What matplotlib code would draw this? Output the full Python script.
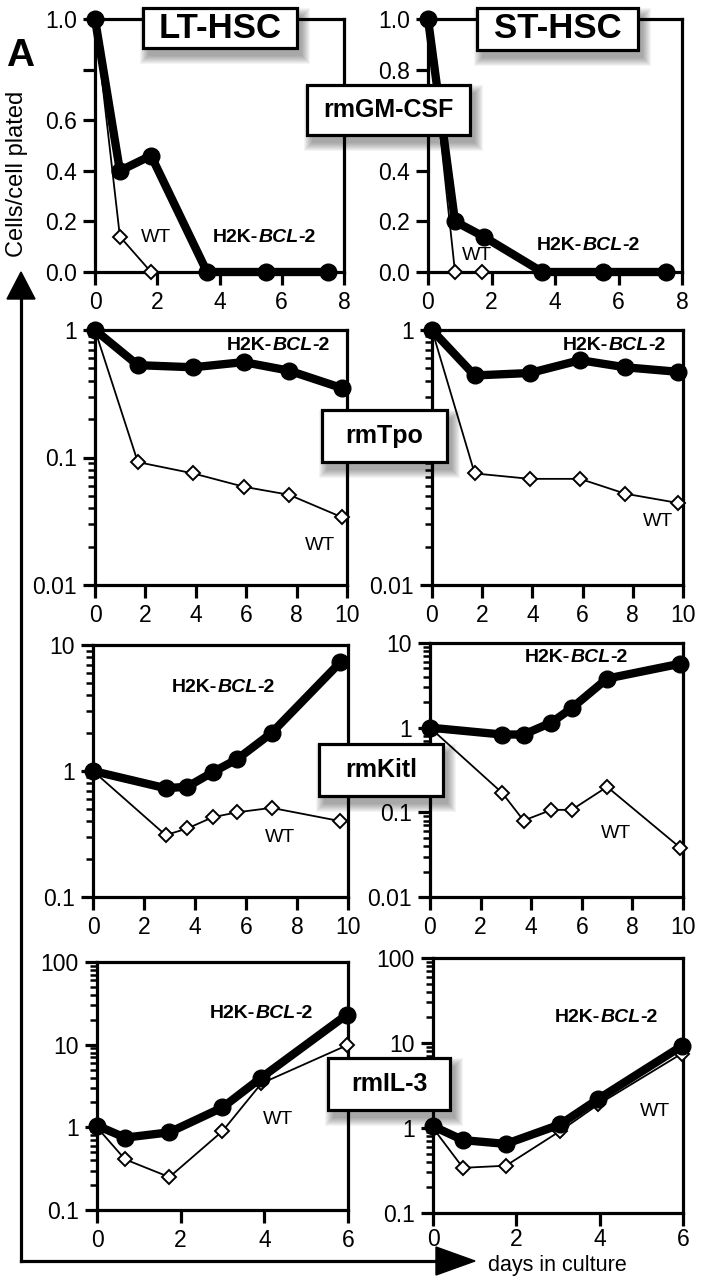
import matplotlib
matplotlib.use("Agg")
import matplotlib.pyplot as plt
from matplotlib import ticker
from matplotlib.patches import Rectangle, Polygon
from matplotlib.lines import Line2D
from matplotlib.transforms import Affine2D

plt.rcParams['font.family'] = ['Liberation Sans', 'DejaVu Sans']

# ---------------- data ----------------
# rmGM-CSF (linear)
lt_gm_x_h2k = [0, 0.8, 1.8, 3.6, 5.5, 7.5]
lt_gm_y_h2k = [1.0, 0.40, 0.46, 0.0, 0.0, 0.0]
lt_gm_x_wt = [0, 0.8, 1.8]
lt_gm_y_wt = [1.0, 0.14, 0.0]
st_gm_x_h2k = [0, 0.85, 1.75, 3.6, 5.5, 7.5]
st_gm_y_h2k = [1.0, 0.20, 0.14, 0.0, 0.0, 0.0]
st_gm_x_wt = [0, 0.85, 1.7]
st_gm_y_wt = [1.0, 0.0, 0.0]

# rmTpo (log)
tpo_x = [0, 1.7, 3.9, 5.9, 7.7, 9.8]
lt_tpo_h2k = [1.0, 0.53, 0.51, 0.56, 0.48, 0.35]
lt_tpo_wt = [1.0, 0.092, 0.075, 0.059, 0.051, 0.034]
st_tpo_h2k = [1.0, 0.44, 0.46, 0.58, 0.51, 0.47]
st_tpo_wt = [1.0, 0.075, 0.068, 0.068, 0.052, 0.044]

# rmKitl (log)
lt_kit_x = [0, 2.85, 3.7, 4.7, 5.65, 7.0, 9.7]
lt_kit_h2k = [1.0, 0.73, 0.75, 0.98, 1.24, 2.0, 7.3]
lt_kit_wt = [1.0, 0.31, 0.35, 0.43, 0.47, 0.51, 0.40]
st_kit_x = [0, 2.85, 3.7, 4.8, 5.6, 7.0, 9.9]
st_kit_h2k = [1.0, 0.83, 0.83, 1.15, 1.7, 3.8, 5.7]
st_kit_wt = [1.0, 0.17, 0.08, 0.107, 0.107, 0.20, 0.038]

# rmIL-3 (log)
lt_il3_x = [0, 0.67, 1.73, 3.0, 3.93, 5.97]
lt_il3_h2k = [1.05, 0.75, 0.87, 1.74, 4.0, 23]
lt_il3_wt = [1.0, 0.41, 0.25, 0.9, 3.4, 9.8]
st_il3_x = [0, 0.72, 1.75, 3.05, 3.97, 5.97]
st_il3_h2k = [1.05, 0.72, 0.65, 1.1, 2.2, 9.2]
st_il3_wt = [1.0, 0.34, 0.36, 0.92, 1.9, 7.5]

column_titles = ["LT-HSC", "ST-HSC"]
factor_labels = ["rmGM-CSF", "rmTpo", "rmKitl", "rmIL-3"]
lt_gm_ticklabels = ["0.0", "0.2", "0.4", "0.6", "", "1.0"]
st_gm_ticklabels = ["0.0", "0.2", "0.4", "", "0.8", "1.0"]

W, H = 704, 1280
fig = plt.figure(figsize=(W / 100, H / 100), dpi=100)
fig.patch.set_facecolor('white')
T = Affine2D().scale(1 / W, -1 / H).translate(0, 1) + fig.transFigure

TICK_FS = 16.5
LBL_FS = 14


def add_ax(l, t, r, b):
    return fig.add_axes([l / W, 1 - b / H, (r - l) / W, (b - t) / H])


def log_fmt(hidden=()):
    return ticker.FuncFormatter(lambda v, p: "" if any(abs(v - h) < 1e-9 for h in hidden) else f"{v:g}")


def style(ax, xmax, xstep, log=False, ylim=None, ylabels=None, hidden=()):
    for s in ax.spines.values():
        s.set_linewidth(2.3)
    ax.set_xlim(0, xmax)
    ax.set_xticks(range(0, xmax + 1, xstep))
    if log:
        ax.set_yscale('log')
        ax.set_ylim(*ylim)
        ax.yaxis.set_major_locator(ticker.LogLocator(base=10, numticks=10))
        ax.yaxis.set_minor_locator(ticker.LogLocator(base=10, subs=range(2, 10), numticks=20))
        ax.yaxis.set_major_formatter(log_fmt(hidden))
        ax.yaxis.set_minor_formatter(ticker.NullFormatter())
    else:
        ax.set_ylim(0, 1.0)
        ax.set_yticks([0, 0.2, 0.4, 0.6, 0.8, 1.0])
        ax.set_yticklabels(ylabels)
    ax.tick_params(which='major', direction='out', length=9, width=2.3,
                   labelsize=TICK_FS, pad=4)
    ax.tick_params(axis='x', which='major', pad=5)
    ax.tick_params(which='minor', direction='out', length=5, width=1.8)


def plot_series(ax, x_wt, wt, x_h2k, h2k):
    ax.plot(x_wt, wt, color='black', lw=1.3, marker='D', ms=6.8, mfc='white',
            mec='black', mew=1.4, clip_on=False, zorder=3)
    ax.plot(x_h2k, h2k, color='black', lw=6, marker='o', ms=12, mfc='black',
            mec='black', clip_on=False, zorder=4, solid_joinstyle='round')


def h2k_label(px, py):
    t1 = fig.text(px / W, 1 - py / H, "H2K-", fontsize=LBL_FS, fontweight='bold',
                  ha='left', va='center', zorder=7)
    a2 = plt.annotate("BCL", xy=(1, 0), xycoords=t1, fontsize=LBL_FS, fontweight='bold',
                      style='italic', va='bottom', ha='left', annotation_clip=False)
    plt.annotate("-2", xy=(1, 0), xycoords=a2, fontsize=LBL_FS, fontweight='bold',
                 va='bottom', ha='left', annotation_clip=False)


def wt_label(px, py):
    fig.text(px / W, 1 - py / H, "WT", fontsize=LBL_FS, ha='center', va='center', zorder=7)


def boxed(text, x0, y0, x1, y1, fs):
    # soft shadow
    for i in range(9):
        fig.add_artist(Rectangle((x0 + 5 - i, y0 + 8 - i), (x1 - x0) + 2 * i, (y1 - y0) + 2 * i,
                                 transform=T, facecolor='black', edgecolor='none',
                                 alpha=0.045, zorder=8))
    fig.add_artist(Rectangle((x0, y0), x1 - x0, y1 - y0, transform=T, facecolor='white',
                             edgecolor='black', lw=2.3, zorder=9))
    fig.text((x0 + x1) / 2 / W, 1 - (y0 + y1) / 2 / H, text, fontsize=fs, fontweight='bold',
             ha='center', va='center', zorder=10)


# ---- row 1 : rmGM-CSF ----
ax1 = add_ax(95, 19, 344, 272)
style(ax1, 8, 2, ylabels=lt_gm_ticklabels)
plot_series(ax1, lt_gm_x_wt, lt_gm_y_wt, lt_gm_x_h2k, lt_gm_y_h2k)
ax2 = add_ax(428, 19, 682, 272)
style(ax2, 8, 2, ylabels=st_gm_ticklabels)
plot_series(ax2, st_gm_x_wt, st_gm_y_wt, st_gm_x_h2k, st_gm_y_h2k)

# ---- row 2 : rmTpo ----
ax3 = add_ax(95, 330, 347, 585)
style(ax3, 10, 2, log=True, ylim=(0.01, 1))
plot_series(ax3, tpo_x, lt_tpo_wt, tpo_x, lt_tpo_h2k)
ax4 = add_ax(432, 330, 683, 585)
style(ax4, 10, 2, log=True, ylim=(0.01, 1), hidden=(0.1,))
plot_series(ax4, tpo_x, st_tpo_wt, tpo_x, st_tpo_h2k)

# ---- row 3 : rmKitl ----
ax5 = add_ax(93, 645, 348, 897)
style(ax5, 10, 2, log=True, ylim=(0.1, 10))
plot_series(ax5, lt_kit_x, lt_kit_wt, lt_kit_x, lt_kit_h2k)
ax6 = add_ax(430, 643, 683, 897)
style(ax6, 10, 2, log=True, ylim=(0.01, 10))
plot_series(ax6, st_kit_x, st_kit_wt, st_kit_x, st_kit_h2k)

# ---- row 4 : rmIL-3 ----
ax7 = add_ax(97, 962, 348, 1210)
style(ax7, 6, 2, log=True, ylim=(0.1, 100))
plot_series(ax7, lt_il3_x, lt_il3_wt, lt_il3_x, lt_il3_h2k)
ax8 = add_ax(433, 958, 683, 1213)
style(ax8, 6, 2, log=True, ylim=(0.1, 100))
ax8.tick_params(axis='x', which='major', pad=2)
plot_series(ax8, st_il3_x, st_il3_wt, st_il3_x, st_il3_h2k)

# ---- series labels ----
for (hx, hy) in [(213, 238), (537, 245), (227, 345), (563, 345),
                 (172, 687), (525, 658), (210, 1013), (555, 1017)]:
    h2k_label(hx, hy)
for (wx, wy) in [(156, 238), (477, 255), (320, 545), (658, 522),
                 (280, 838), (616, 833), (278, 1120), (655, 1112)]:
    wt_label(wx, wy)

# ---- title boxes & factor boxes ----
boxed(column_titles[0], 143, 8, 297, 48, 25)
boxed(column_titles[1], 477, 8, 638, 50, 25)
boxed(factor_labels[0], 307, 85, 470, 135, 18)
boxed(factor_labels[1], 322, 410, 447, 462, 18)
boxed(factor_labels[2], 319, 744, 443, 796, 18)
boxed(factor_labels[3], 328, 1058, 450, 1110, 18)

# ---- panel letter and axis annotations ----
fig.text(20 / W, 1 - 56 / H, "A", fontsize=28, fontweight='bold', ha='center', va='center')
fig.text(17 / W, 1 - 174 / H, "Cells/cell plated", fontsize=17, rotation=90,
         ha='center', va='center')

fig.add_artist(Line2D([21, 21], [1261, 296], transform=T, color='black', lw=2.3))
fig.add_artist(Line2D([21, 440], [1261, 1261], transform=T, color='black', lw=2.3))
fig.add_artist(Polygon([(7, 299), (21, 272), (35, 299)], closed=True, transform=T,
                       facecolor='black', edgecolor='black'))
fig.add_artist(Polygon([(436, 1247), (475, 1261), (436, 1275)], closed=True, transform=T,
                       facecolor='black', edgecolor='black'))
fig.text(488 / W, 1 - 1271 / H, "days in culture", fontsize=15.5, ha='left', va='baseline')

fig.savefig("out.png", dpi=100, facecolor='white')
